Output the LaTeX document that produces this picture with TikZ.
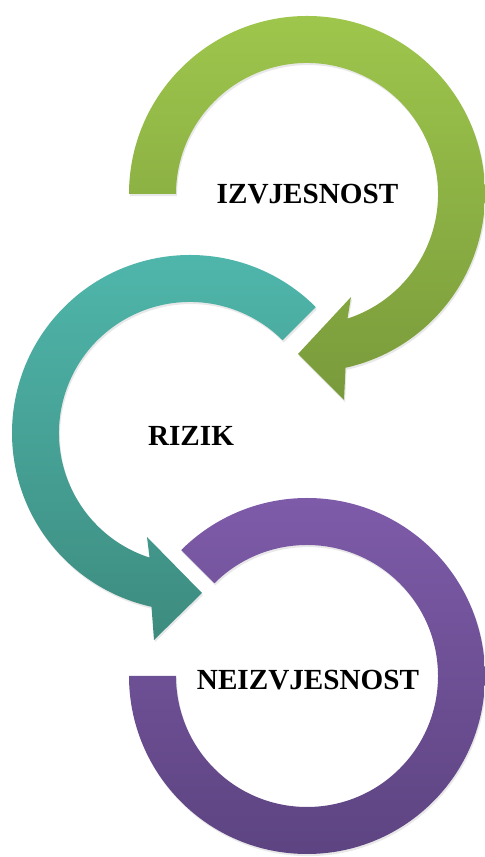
\documentclass[tikz,border=0pt]{standalone}
\usepackage{fontspec}
\setmainfont{Liberation Serif}
\usetikzlibrary{shadows}
\definecolor{izvtop}{RGB}{158,198,76}
\definecolor{izvbot}{RGB}{121,154,59}
\definecolor{riztop}{RGB}{80,184,173}
\definecolor{rizbot}{RGB}{61,139,127}
\definecolor{neitop}{RGB}{126,91,169}
\definecolor{neibot}{RGB}{93,68,129}
\tikzset{
  ring/.style={drop shadow={shadow xshift=0.6pt, shadow yshift=-1.2pt, opacity=0.18}},
  label/.style={font=\fontsize{16.6}{20}\selectfont\bfseries, inner sep=0pt}
}
\begin{document}
\begin{tikzpicture}[x=0.02cm, y=0.02cm]
    \useasboundingbox (0,0) rectangle (484,857);
    % izvjesnost
    \begin{scope}[shift={(307,663)}]
    \path[ring, top color=izvtop, bottom color=izvbot] (180:178)
        arc[start angle=180, end angle=-77.5, radius=178]
        -- (37,-206) -- (-9,-160) -- (44,-103) -- (-72:131)
        arc[start angle=-72, end angle=180, radius=131] -- cycle;
    \end{scope}
    % rizik
    \begin{scope}[shift={(190,424)}]
    \path[ring, top color=riztop, bottom color=rizbot] (45:178)
        arc[start angle=45, end angle=257.5, radius=178]
        -- (-36,-207) -- (12,-160) -- (-43,-104) -- (252:131)
        arc[start angle=252, end angle=45, radius=131] -- cycle;
    \end{scope}
    % neizvjesnost
    \begin{scope}[shift={(307,181)}]
    \path[ring, top color=neitop, bottom color=neibot] (180:178)
        arc[start angle=180, end angle=495, radius=178] -- (495:131)
        arc[start angle=495, end angle=180, radius=131] -- cycle;
    \end{scope}
    \node[label] (izv) at (307.5,663) {IZVJESNOST};
    \node[label] (riz) at (191,421) {RIZIK};
    \node[label] (nei) at (308,177) {NEIZVJESNOST};
\end{tikzpicture}
\end{document}
